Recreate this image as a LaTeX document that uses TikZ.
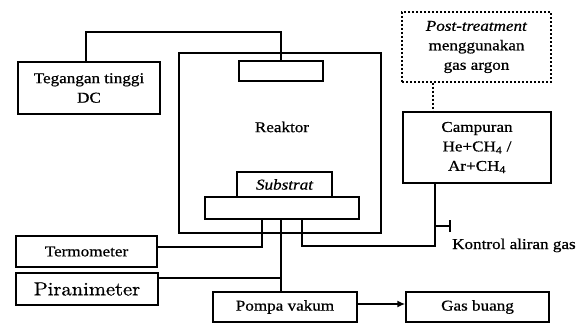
\documentclass[tikz,border=0pt]{standalone}
\usepackage{fontspec}
\setmainfont{Liberation Serif}[FakeStretch=1.14, FakeBold=0.7]
\newfontfamily\pirafont{lmroman10-regular.otf}[FakeStretch=1.08, FakeBold=0.8]
\usetikzlibrary{arrows.meta}
\begin{document}
\begin{tikzpicture}[x=1pt,y=-1pt,
  every node/.style={font=\fontsize{15}{19.5}\selectfont, align=center, inner sep=0pt},
  box/.style={draw, line width=1.5pt, rectangle},
  wire/.style={line width=1.5pt},
  dotbox/.style={draw, line width=1.5pt, dash pattern=on 2pt off 2pt},
]
\useasboundingbox (0,0) rectangle (583,326);
% boxes
\node[box, minimum width=142, minimum height=52] (teg) at (89,88) {Tegangan tinggi\\DC};
\node[box, minimum width=202, minimum height=180] (reak) at (280,143) {};
\node (reaktxt) at (282,127) {Reaktor};
\node[box, minimum width=84, minimum height=20] (el) at (281,71) {};
\node[box, minimum width=95, minimum height=25] (sub) at (284.5,184.5) {\itshape Substrat};
\node[box, minimum width=154, minimum height=22, fill=white] (hold) at (282,208) {};
\node[dotbox, minimum width=149, minimum height=70] (post) at (476.5,47) {\textit{Post-treatment}\\menggunakan\\gas argon};
\node[box, minimum width=148, minimum height=71] (camp) at (477,147.5) {Campuran\\He+CH\textsubscript{4} /\\Ar+CH\textsubscript{4}};
\node[box, minimum width=141, minimum height=31] (termo) at (86.5,251.5) {Termometer};
\node[box, minimum width=142, minimum height=32] (pira) at (87,289) {\pirafont\fontsize{19}{22}\selectfont Piranimeter};
\node[box, minimum width=144, minimum height=30] (pompa) at (285,307) {Pompa vakum};
\node[box, minimum width=143, minimum height=30] (gas) at (477.5,307) {Gas buang};
\node[anchor=base west] (kontrol) at (452,249) {Kontrol aliran gas};
% connectors
\coordinate (tegtop) at (86,32);
\draw[wire] (tegtop |- teg.north) -- (tegtop) -| (el.north);
\draw[wire, dash pattern=on 2pt off 2pt] (433,0 |- post.south) -- (433,0 |- camp.north);
\draw[wire] (termo.east |- 0,247) -| (262,0 |- hold.south);
\draw[wire] (pira.east |- 0,278) -| (281,0 |- hold.south);
\draw[wire] (281,0 |- hold.south) -- (281,0 |- pompa.north);
\coordinate (gcorner) at (435,246);
\draw[wire] (302,0 |- hold.south) |- (gcorner) -- (435,0 |- camp.south);
\coordinate (valveA) at (435,226);
\coordinate (valveB) at (450,226);
\draw[wire] (valveA) -- (valveB);
\draw[wire] ([yshift=-6]valveB) -- ([yshift=6]valveB);
\draw[wire, -{Latex[length=8pt,width=7pt]}] (pompa.east |- 0,304) -- (gas.west |- 0,304);
\end{tikzpicture}
\end{document}
